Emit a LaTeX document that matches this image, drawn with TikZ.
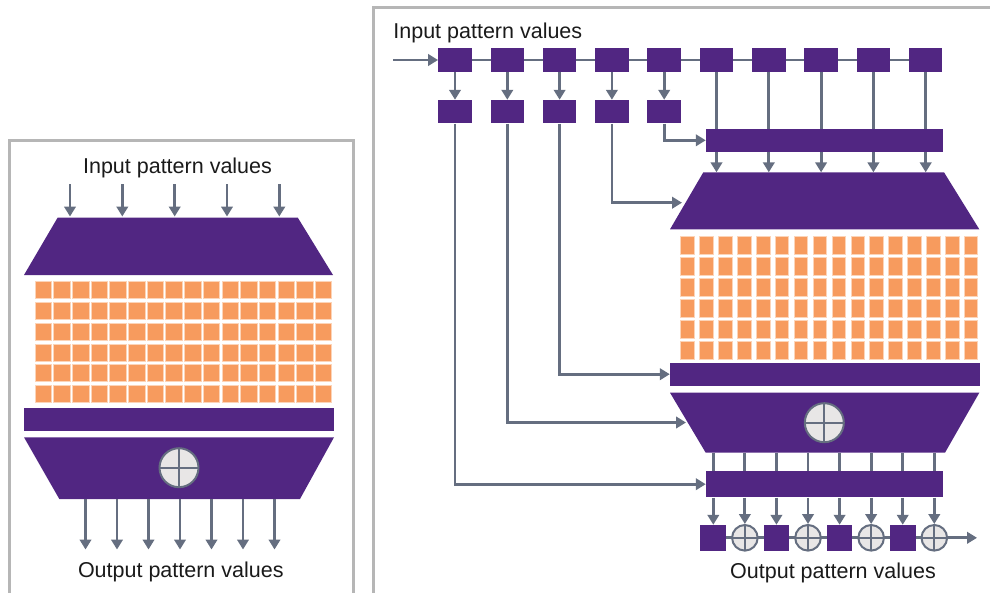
\documentclass[tikz,border=0pt]{standalone}
\usepackage{fontspec}
\setmainfont{Liberation Sans}
\usetikzlibrary{arrows.meta,backgrounds}
\definecolor{purp}{RGB}{81,38,130}
\definecolor{orng}{RGB}{247,155,94}
\definecolor{orngl}{RGB}{252,212,184}
\definecolor{arr}{RGB}{101,110,128}
\definecolor{framec}{RGB}{182,182,182}
\definecolor{circc}{RGB}{232,230,230}
\definecolor{txt}{RGB}{26,26,26}
\tikzset{
  lbl/.style={text=txt, font=\fontsize{21.5}{24}\selectfont, inner sep=0, anchor=base},
  pbox/.style={fill=purp, inner sep=0, minimum width=33.5pt, minimum height=23.5pt},
  obox/.style={fill=purp, inner sep=0, minimum width=25.7pt, minimum height=25.7pt},
  bar/.style={fill=purp, inner sep=0},
  trap/.style={fill=purp},
  cellL/.style={fill=orng, draw=orngl, line width=0.6pt, inner sep=0, minimum width=16.5pt, minimum height=17pt},
  cellR/.style={fill=orng, draw=orngl, line width=0.6pt, inner sep=0, minimum width=13.5pt, minimum height=18pt},
  conn/.style={draw=arr, line width=2.8pt},
  arrowc/.style={conn, -{Triangle[length=10pt,width=11.5pt]}},
  panel/.style={draw=framec, line width=3pt},
  oplus/.style={circle, fill=circc, draw=arr, line width=2pt, inner sep=0,
    path picture={\draw[arr, line width=2.2pt]
      (path picture bounding box.north) -- (path picture bounding box.south)
      (path picture bounding box.west) -- (path picture bounding box.east);}},
}
\begin{document}
\begin{tikzpicture}[x=1pt,y=-1pt]
\useasboundingbox (0,0) rectangle (990,592);
% panels
\draw[panel] (9,600) |- (353,140) -- (353,600);
\draw[panel] (373,600) |- (1000,7);

% ================= LEFT PANEL =================
\node[lbl] (inL) at (177.5,173.3) {Input pattern values};
\fill[trap] (57.7,217.5) -- (297.7,217.5) -- (333,275) -- (24,275) -- cycle;
\foreach \i/\x in {1/70,2/122.3,3/174.7,4/227,5/279.3}{
  \coordinate (ilS\i) at (\x,184);
  \coordinate (ilE\i) at (\x,216.5);
  \draw[arrowc] (ilS\i) -- (ilE\i);
}
\foreach \c in {0,...,15}{
  \foreach \r in {0,...,5}{
    \node[cellL] (gl-\c-\r) at ({43.25+\c*18.68},{289.6+\r*20.9}) {};
  }
}
\node[bar, minimum width=310pt, minimum height=23.3pt] (barL) at (179,419.3) {};
\fill[trap] (24,437.3) -- (334,437.3) -- (300,499) -- (59.3,499) -- cycle;
\node[oplus, minimum size=39pt] (plL) at (179,467.7) {};
\foreach \i in {0,...,6}{
  \coordinate (olS\i) at ({85.5+\i*31.5},499);
  \coordinate (olE\i) at ({85.5+\i*31.5},549.5);
  \draw[arrowc] (olS\i) -- (olE\i);
}
\node[lbl] (outL) at (180.8,577.7) {Output pattern values};

% ================= RIGHT PANEL =================
\node[lbl] (inR) at (487.8,38.3) {Input pattern values};
\foreach \i in {1,...,10}{
  \node[pbox] (t\i) at ({455+52.3*(\i-1)},60) {};
}
\foreach \i in {1,...,5}{
  \node[pbox] (s\i) at ({455+52.3*(\i-1)},111.7) {};
  \draw[arrowc] (t\i.south) -- (s\i.north);
}
\coordinate (inStart) at (393,60);
\draw[arrowc] (inStart) -- (t1.west);
\begin{scope}[on background layer]
  \draw[conn] (t1.center) -- (t10.center);
\end{scope}

% upper bar
\node[bar, minimum width=236.7pt, minimum height=22.7pt] (bar1) at (824.3,140.3) {};
\foreach \i in {6,...,10}{
  \draw[conn] (t\i.south) -- (t\i.south |- bar1.north);
}
% upper trapezoid
\fill[trap] (703.3,172.3) -- (944,172.3) -- (979.3,229.3) -- (670,229.3) -- cycle;
\foreach \i in {6,...,10}{
  \coordinate (utop\i) at (t\i.south |- 0,172.3);
  \draw[arrowc] (t\i.south |- bar1.south) -- (utop\i);
}
% grid right
\foreach \c in {0,...,15}{
  \foreach \r in {0,...,5}{
    \node[cellR] (gr-\c-\r) at ({687.45+\c*18.9},{245+\r*21}) {};
  }
}
% middle bar
\node[bar, minimum width=310pt, minimum height=23pt] (bar2) at (825,374.2) {};
% lower trapezoid
\fill[trap] (670,392.7) -- (979.3,392.7) -- (945,452.7) -- (705.7,452.7) -- cycle;
\node[oplus, minimum size=39pt] (plR) at (824.3,422.7) {};
% lower bar
\node[bar, minimum width=236.7pt, minimum height=26.3pt] (bar3) at (824.3,484.2) {};
\foreach \i in {0,...,7}{
  \coordinate (lt\i) at ({713.3+\i*31.57},452.7);
  \draw[conn] (lt\i) -- (lt\i |- bar3.north);
}
% output row
\node[obox] (o0) at (713.3,537.8) {};
\node[oplus, minimum size=25.6pt] (o1) at (744.87,537.8) {};
\node[obox] (o2) at (776.44,537.8) {};
\node[oplus, minimum size=25.6pt] (o3) at (808.01,537.8) {};
\node[obox] (o4) at (839.58,537.8) {};
\node[oplus, minimum size=25.6pt] (o5) at (871.15,537.8) {};
\node[obox] (o6) at (902.72,537.8) {};
\node[oplus, minimum size=25.6pt] (o7) at (934.29,537.8) {};
\foreach \i in {0,...,7}{
  \draw[arrowc] (o\i.north |- bar3.south) -- (o\i.north);
}
\coordinate (outEnd) at (977,537.8);
\begin{scope}[on background layer]
  \draw[arrowc] (o0.center) -- (outEnd);
\end{scope}
\node[lbl] (outR) at (833,578.3) {Output pattern values};

% feedback connectors from second-row boxes
\coordinate (trUpL) at (682,202.7);
\coordinate (trLoL) at (686,422.5);
\draw[arrowc] (s5.south) |- (bar1.west);
\draw[arrowc] (s4.south) |- (trUpL);
\draw[arrowc] (s3.south) |- (bar2.west);
\draw[arrowc] (s2.south) |- (trLoL);
\draw[arrowc] (s1.south) |- (bar3.west);
\end{tikzpicture}
\end{document}
